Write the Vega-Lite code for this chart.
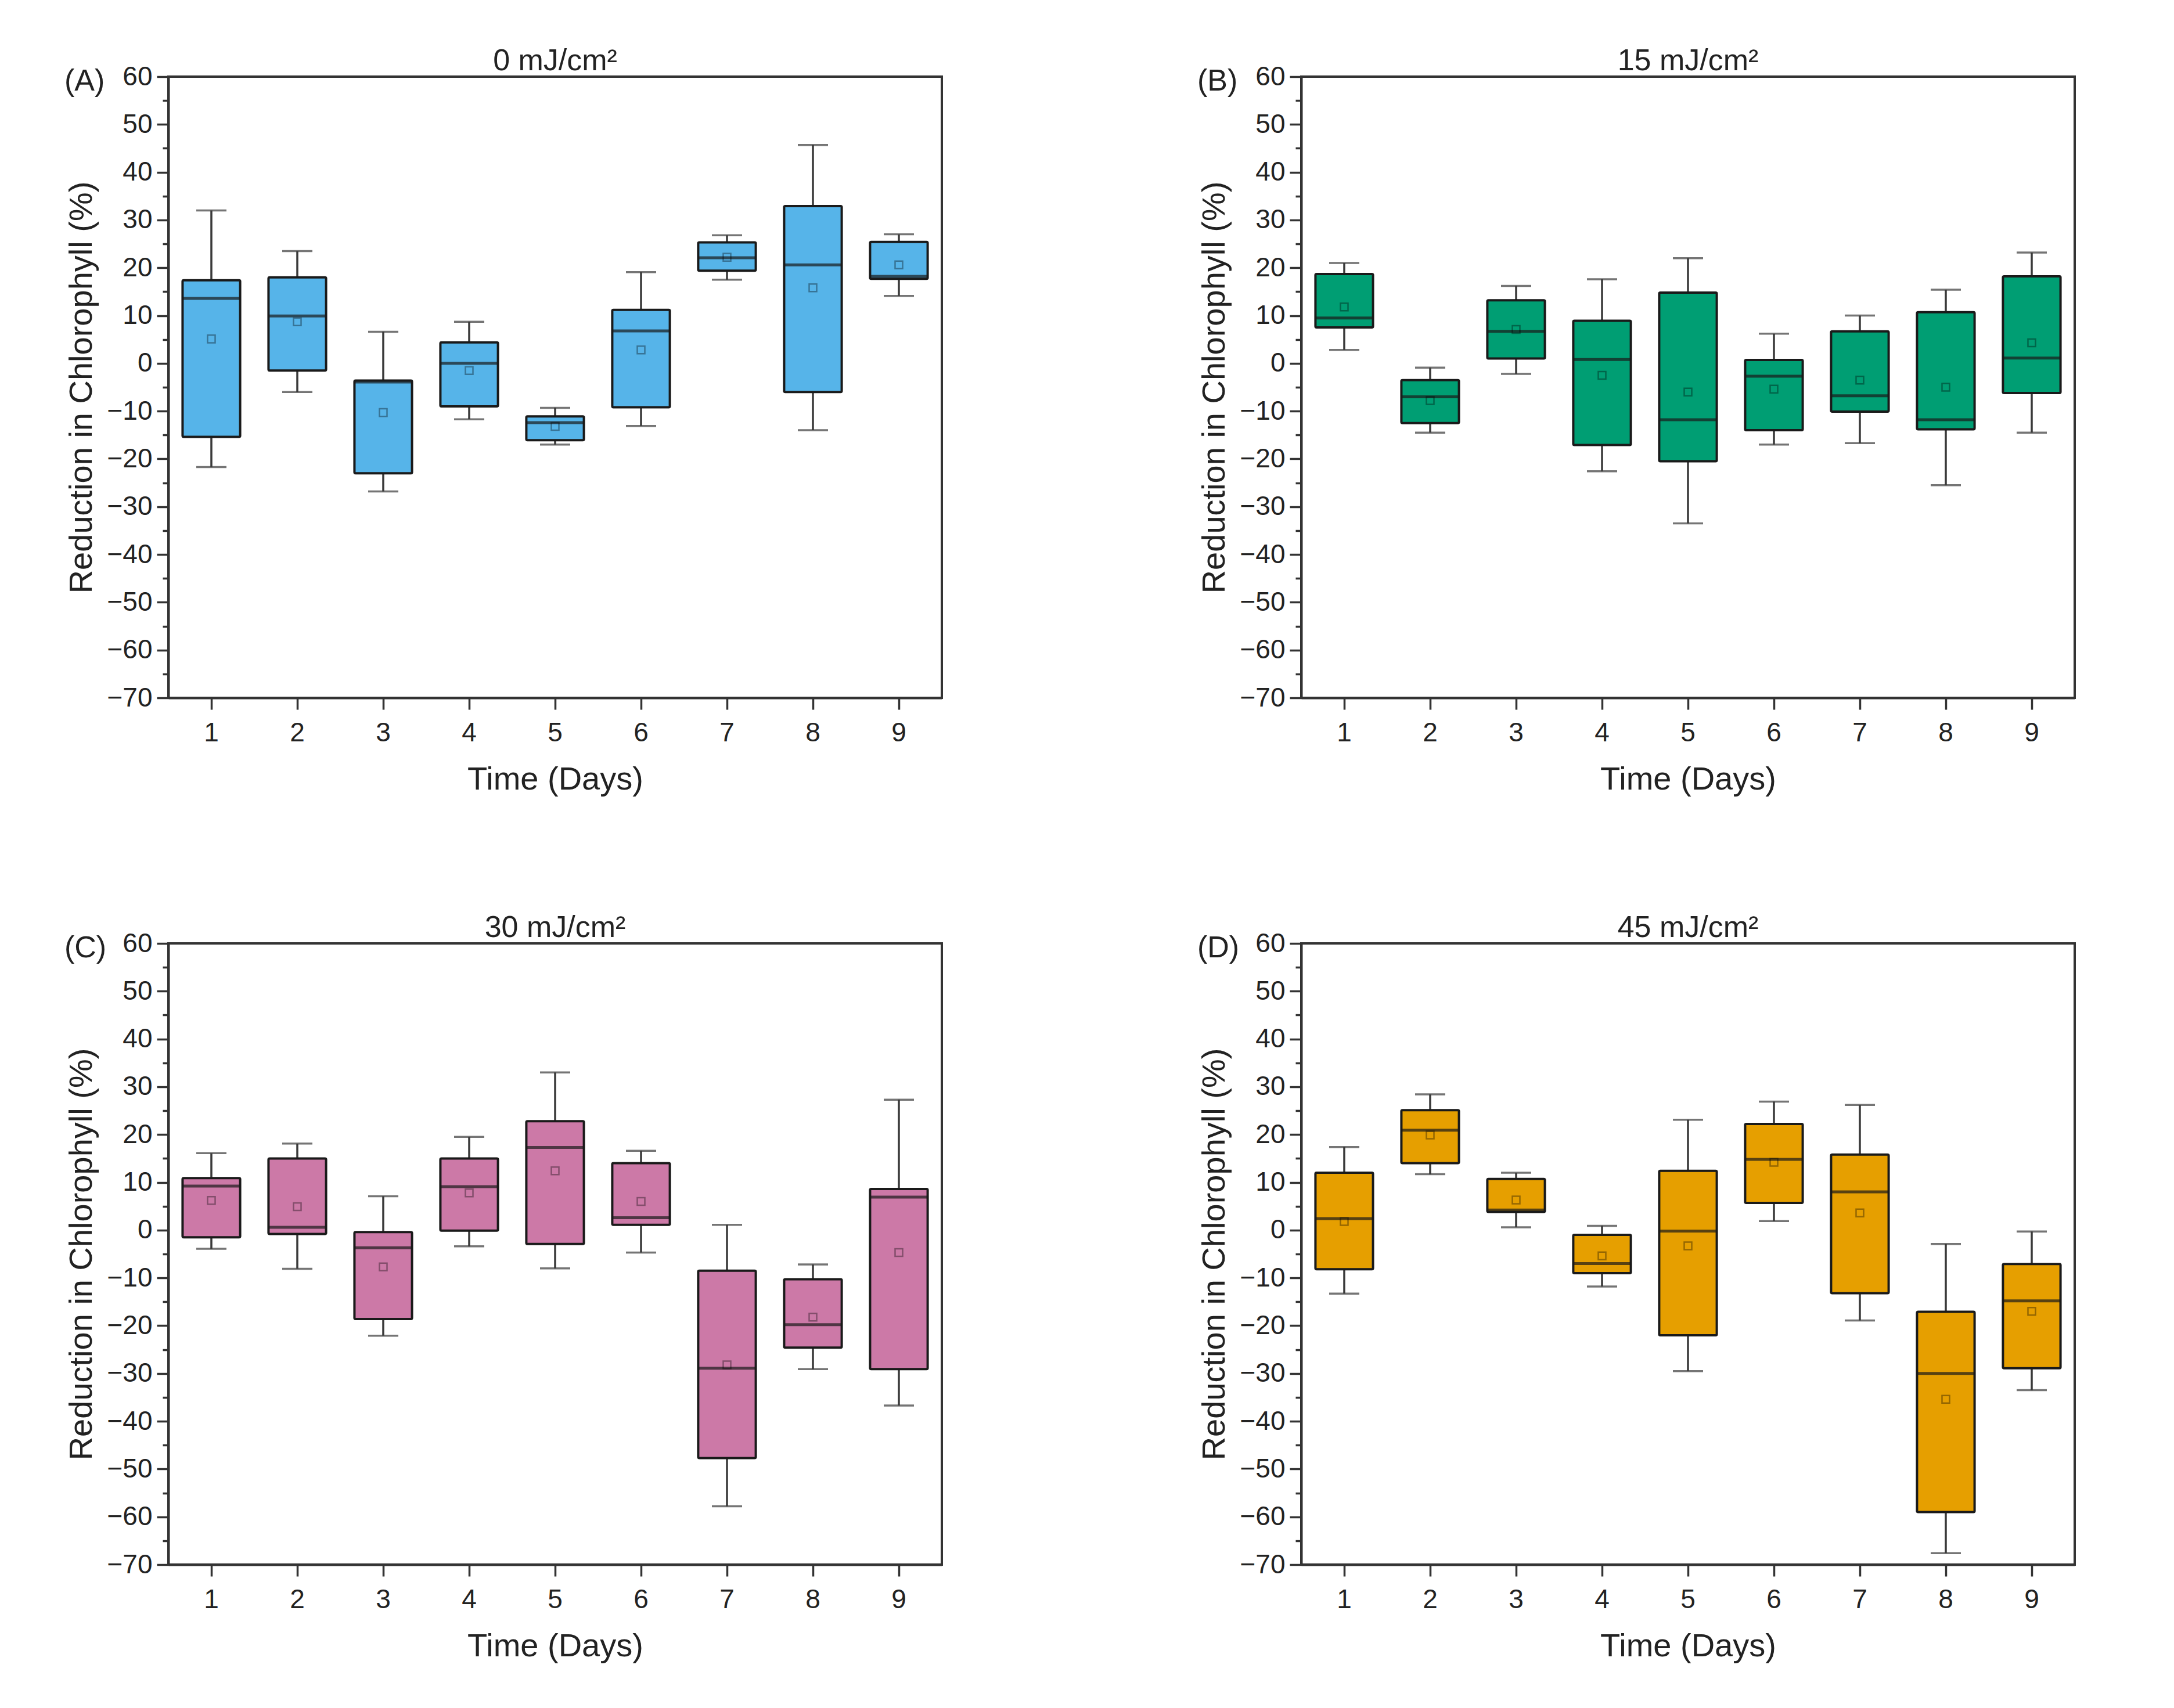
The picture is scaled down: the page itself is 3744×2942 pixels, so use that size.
{
  "$schema": "https://vega.github.io/schema/vega-lite/v6.json",
  "background": "white",
  "padding": {"left": 110, "top": 77, "right": 40, "bottom": 30},
  "data": {
    "values": [
      {"panel": "A", "day": 1, "lo": -21.7, "q1": -15.4, "med": 13.6, "q3": 17.4, "hi": 32.0, "mean": 5.1},
      {"panel": "A", "day": 2, "lo": -6.0, "q1": -1.5, "med": 9.9, "q3": 18.0, "hi": 23.5, "mean": 8.7},
      {"panel": "A", "day": 3, "lo": -26.8, "q1": -23.0, "med": -3.9, "q3": -3.6, "hi": 6.6, "mean": -10.3},
      {"panel": "A", "day": 4, "lo": -11.7, "q1": -9.0, "med": 0.0, "q3": 4.4, "hi": 8.7, "mean": -1.5},
      {"panel": "A", "day": 5, "lo": -17.0, "q1": -16.1, "med": -12.4, "q3": -11.1, "hi": -9.3, "mean": -13.2},
      {"panel": "A", "day": 6, "lo": -13.1, "q1": -9.2, "med": 6.8, "q3": 11.2, "hi": 19.1, "mean": 2.8},
      {"panel": "A", "day": 7, "lo": 17.5, "q1": 19.4, "med": 22.1, "q3": 25.3, "hi": 26.8, "mean": 22.2},
      {"panel": "A", "day": 8, "lo": -14.0, "q1": -6.0, "med": 20.6, "q3": 32.9, "hi": 45.7, "mean": 15.8},
      {"panel": "A", "day": 9, "lo": 14.1, "q1": 17.7, "med": 18.2, "q3": 25.4, "hi": 27.0, "mean": 20.6},
      {"panel": "B", "day": 1, "lo": 2.8, "q1": 7.5, "med": 9.5, "q3": 18.7, "hi": 21.0, "mean": 11.8},
      {"panel": "B", "day": 2, "lo": -14.5, "q1": -12.5, "med": -7.0, "q3": -3.5, "hi": -0.9, "mean": -7.8},
      {"panel": "B", "day": 3, "lo": -2.2, "q1": 1.0, "med": 6.7, "q3": 13.2, "hi": 16.2, "mean": 7.1},
      {"panel": "B", "day": 4, "lo": -22.6, "q1": -17.1, "med": 0.8, "q3": 8.9, "hi": 17.6, "mean": -2.5},
      {"panel": "B", "day": 5, "lo": -33.5, "q1": -20.5, "med": -11.8, "q3": 14.8, "hi": 22.0, "mean": -6.0},
      {"panel": "B", "day": 6, "lo": -17.0, "q1": -14.0, "med": -2.7, "q3": 0.7, "hi": 6.2, "mean": -5.4},
      {"panel": "B", "day": 7, "lo": -16.7, "q1": -10.1, "med": -6.8, "q3": 6.7, "hi": 10.0, "mean": -3.5},
      {"panel": "B", "day": 8, "lo": -25.5, "q1": -13.8, "med": -11.8, "q3": 10.7, "hi": 15.4, "mean": -5.0},
      {"panel": "B", "day": 9, "lo": -14.5, "q1": -6.2, "med": 1.1, "q3": 18.2, "hi": 23.2, "mean": 4.3},
      {"panel": "C", "day": 1, "lo": -3.9, "q1": -1.5, "med": 9.2, "q3": 10.9, "hi": 16.1, "mean": 6.2},
      {"panel": "C", "day": 2, "lo": -8.1, "q1": -0.8, "med": 0.6, "q3": 15.0, "hi": 18.1, "mean": 4.9},
      {"panel": "C", "day": 3, "lo": -22.1, "q1": -18.6, "med": -3.7, "q3": -0.4, "hi": 7.1, "mean": -7.7},
      {"panel": "C", "day": 4, "lo": -3.4, "q1": -0.1, "med": 9.1, "q3": 15.0, "hi": 19.5, "mean": 7.8},
      {"panel": "C", "day": 5, "lo": -8.0, "q1": -2.9, "med": 17.3, "q3": 22.8, "hi": 33.0, "mean": 12.4},
      {"panel": "C", "day": 6, "lo": -4.7, "q1": 1.1, "med": 2.6, "q3": 14.0, "hi": 16.6, "mean": 6.0},
      {"panel": "C", "day": 7, "lo": -57.8, "q1": -47.7, "med": -28.9, "q3": -8.5, "hi": 1.1, "mean": -28.2},
      {"panel": "C", "day": 8, "lo": -29.1, "q1": -24.6, "med": -19.8, "q3": -10.3, "hi": -7.2, "mean": -18.2},
      {"panel": "C", "day": 9, "lo": -36.7, "q1": -29.1, "med": 6.9, "q3": 8.6, "hi": 27.3, "mean": -4.7},
      {"panel": "D", "day": 1, "lo": -13.3, "q1": -8.2, "med": 2.4, "q3": 12.0, "hi": 17.4, "mean": 1.8},
      {"panel": "D", "day": 2, "lo": 11.7, "q1": 14.0, "med": 20.9, "q3": 25.1, "hi": 28.4, "mean": 19.9},
      {"panel": "D", "day": 3, "lo": 0.6, "q1": 3.8, "med": 4.2, "q3": 10.7, "hi": 12.0, "mean": 6.3},
      {"panel": "D", "day": 4, "lo": -11.8, "q1": -9.0, "med": -7.0, "q3": -1.0, "hi": 0.9, "mean": -5.4},
      {"panel": "D", "day": 5, "lo": -29.5, "q1": -22.0, "med": -0.2, "q3": 12.4, "hi": 23.1, "mean": -3.3},
      {"panel": "D", "day": 6, "lo": 1.9, "q1": 5.7, "med": 14.8, "q3": 22.2, "hi": 26.9, "mean": 14.2},
      {"panel": "D", "day": 7, "lo": -18.9, "q1": -13.2, "med": 8.0, "q3": 15.8, "hi": 26.2, "mean": 3.6},
      {"panel": "D", "day": 8, "lo": -67.6, "q1": -59.0, "med": -30.0, "q3": -17.1, "hi": -2.9, "mean": -35.4},
      {"panel": "D", "day": 9, "lo": -33.5, "q1": -28.9, "med": -14.8, "q3": -7.1, "hi": -0.3, "mean": -17.0}
    ]
  },
  "spacing": 198,
  "vconcat": [
    {
      "spacing": 437,
      "hconcat": [
        {
          "title": {"text": "(A)", "anchor": "start", "frame": "bounds", "offset": 0, "dy": 90},
          "vconcat": [
            {
              "width": 1332, "height": 1070,
              "title": "0 mJ/cm²",
              "transform": [{"filter": "datum.panel === 'A'"}],
              "encoding": {
                "x": {"field": "day", "type": "ordinal", "scale": {"type": "band", "paddingInner": 0, "paddingOuter": 0},
                      "axis": {"title": "Time (Days)", "labelAngle": 0, "tickSize": 20, "labelPadding": 18, "titlePadding": 30}}
              },
              "layer": [
                {"mark": {"type": "rule", "color": "#3a3a3a", "strokeWidth": 3.5},
                 "encoding": {
                   "y": {"field": "lo", "type": "quantitative", "scale": {"domain": [-70, 60], "nice": false, "zero": false},
                         "axis": {"title": "Reduction in Chlorophyll (%)", "values": [-70, -65, -60, -55, -50, -45, -40, -35, -30, -25, -20, -15, -10, -5, 0, 5, 10, 15, 20, 25, 30, 35, 40, 45, 50, 55, 60],
                                  "labelExpr": "datum.value % 10 === 0 ? datum.label : ''",
                                  "tickSize": {"condition": {"test": "datum.value % 10 !== 0", "value": 10}, "value": 20},
                                  "labelOverlap": false, "labelFlush": false, "labelPadding": 8, "titlePadding": 14}},
                   "y2": {"field": "hi"}}},
                {"mark": {"type": "tick", "color": "#3a3a3a", "thickness": 3.5, "size": 52},
                 "encoding": {"y": {"field": "lo", "type": "quantitative"}}},
                {"mark": {"type": "tick", "color": "#3a3a3a", "thickness": 3.5, "size": 52},
                 "encoding": {"y": {"field": "hi", "type": "quantitative"}}},
                {"mark": {"type": "bar", "fill": "#56B4E9", "stroke": "#1a1a1a", "strokeWidth": 4, "width": {"band": 0.67}, "cornerRadius": 2},
                 "encoding": {"y": {"field": "q1", "type": "quantitative"}, "y2": {"field": "q3"}}},
                {"mark": {"type": "tick", "color": "#1a1a1a", "thickness": 5, "size": 99},
                 "encoding": {"y": {"field": "med", "type": "quantitative"}}},
                {"mark": {"type": "point", "shape": "square", "filled": false, "size": 170, "strokeWidth": 2.5, "color": "#000000", "opacity": 0.35},
                 "encoding": {"y": {"field": "mean", "type": "quantitative"}}}
              ]
            }
          ]
        },
        {
          "title": {"text": "(B)", "anchor": "start", "frame": "bounds", "offset": 0, "dy": 90},
          "vconcat": [
            {
              "width": 1332, "height": 1070,
              "title": "15 mJ/cm²",
              "transform": [{"filter": "datum.panel === 'B'"}],
              "encoding": {
                "x": {"field": "day", "type": "ordinal", "scale": {"type": "band", "paddingInner": 0, "paddingOuter": 0},
                      "axis": {"title": "Time (Days)", "labelAngle": 0, "tickSize": 20, "labelPadding": 18, "titlePadding": 30}}
              },
              "layer": [
                {"mark": {"type": "rule", "color": "#3a3a3a", "strokeWidth": 3.5},
                 "encoding": {
                   "y": {"field": "lo", "type": "quantitative", "scale": {"domain": [-70, 60], "nice": false, "zero": false},
                         "axis": {"title": "Reduction in Chlorophyll (%)", "values": [-70, -65, -60, -55, -50, -45, -40, -35, -30, -25, -20, -15, -10, -5, 0, 5, 10, 15, 20, 25, 30, 35, 40, 45, 50, 55, 60],
                                  "labelExpr": "datum.value % 10 === 0 ? datum.label : ''",
                                  "tickSize": {"condition": {"test": "datum.value % 10 !== 0", "value": 10}, "value": 20},
                                  "labelOverlap": false, "labelFlush": false, "labelPadding": 8, "titlePadding": 14}},
                   "y2": {"field": "hi"}}},
                {"mark": {"type": "tick", "color": "#3a3a3a", "thickness": 3.5, "size": 52},
                 "encoding": {"y": {"field": "lo", "type": "quantitative"}}},
                {"mark": {"type": "tick", "color": "#3a3a3a", "thickness": 3.5, "size": 52},
                 "encoding": {"y": {"field": "hi", "type": "quantitative"}}},
                {"mark": {"type": "bar", "fill": "#009E73", "stroke": "#1a1a1a", "strokeWidth": 4, "width": {"band": 0.67}, "cornerRadius": 2},
                 "encoding": {"y": {"field": "q1", "type": "quantitative"}, "y2": {"field": "q3"}}},
                {"mark": {"type": "tick", "color": "#1a1a1a", "thickness": 5, "size": 99},
                 "encoding": {"y": {"field": "med", "type": "quantitative"}}},
                {"mark": {"type": "point", "shape": "square", "filled": false, "size": 170, "strokeWidth": 2.5, "color": "#000000", "opacity": 0.35},
                 "encoding": {"y": {"field": "mean", "type": "quantitative"}}}
              ]
            }
          ]
        }
      ]
    },
    {
      "spacing": 437,
      "hconcat": [
        {
          "title": {"text": "(C)", "anchor": "start", "frame": "bounds", "offset": 0, "dy": 90},
          "vconcat": [
            {
              "width": 1332, "height": 1070,
              "title": "30 mJ/cm²",
              "transform": [{"filter": "datum.panel === 'C'"}],
              "encoding": {
                "x": {"field": "day", "type": "ordinal", "scale": {"type": "band", "paddingInner": 0, "paddingOuter": 0},
                      "axis": {"title": "Time (Days)", "labelAngle": 0, "tickSize": 20, "labelPadding": 18, "titlePadding": 30}}
              },
              "layer": [
                {"mark": {"type": "rule", "color": "#3a3a3a", "strokeWidth": 3.5},
                 "encoding": {
                   "y": {"field": "lo", "type": "quantitative", "scale": {"domain": [-70, 60], "nice": false, "zero": false},
                         "axis": {"title": "Reduction in Chlorophyll (%)", "values": [-70, -65, -60, -55, -50, -45, -40, -35, -30, -25, -20, -15, -10, -5, 0, 5, 10, 15, 20, 25, 30, 35, 40, 45, 50, 55, 60],
                                  "labelExpr": "datum.value % 10 === 0 ? datum.label : ''",
                                  "tickSize": {"condition": {"test": "datum.value % 10 !== 0", "value": 10}, "value": 20},
                                  "labelOverlap": false, "labelFlush": false, "labelPadding": 8, "titlePadding": 14}},
                   "y2": {"field": "hi"}}},
                {"mark": {"type": "tick", "color": "#3a3a3a", "thickness": 3.5, "size": 52},
                 "encoding": {"y": {"field": "lo", "type": "quantitative"}}},
                {"mark": {"type": "tick", "color": "#3a3a3a", "thickness": 3.5, "size": 52},
                 "encoding": {"y": {"field": "hi", "type": "quantitative"}}},
                {"mark": {"type": "bar", "fill": "#CC79A7", "stroke": "#1a1a1a", "strokeWidth": 4, "width": {"band": 0.67}, "cornerRadius": 2},
                 "encoding": {"y": {"field": "q1", "type": "quantitative"}, "y2": {"field": "q3"}}},
                {"mark": {"type": "tick", "color": "#1a1a1a", "thickness": 5, "size": 99},
                 "encoding": {"y": {"field": "med", "type": "quantitative"}}},
                {"mark": {"type": "point", "shape": "square", "filled": false, "size": 170, "strokeWidth": 2.5, "color": "#000000", "opacity": 0.35},
                 "encoding": {"y": {"field": "mean", "type": "quantitative"}}}
              ]
            }
          ]
        },
        {
          "title": {"text": "(D)", "anchor": "start", "frame": "bounds", "offset": 0, "dy": 90},
          "vconcat": [
            {
              "width": 1332, "height": 1070,
              "title": "45 mJ/cm²",
              "transform": [{"filter": "datum.panel === 'D'"}],
              "encoding": {
                "x": {"field": "day", "type": "ordinal", "scale": {"type": "band", "paddingInner": 0, "paddingOuter": 0},
                      "axis": {"title": "Time (Days)", "labelAngle": 0, "tickSize": 20, "labelPadding": 18, "titlePadding": 30}}
              },
              "layer": [
                {"mark": {"type": "rule", "color": "#3a3a3a", "strokeWidth": 3.5},
                 "encoding": {
                   "y": {"field": "lo", "type": "quantitative", "scale": {"domain": [-70, 60], "nice": false, "zero": false},
                         "axis": {"title": "Reduction in Chlorophyll (%)", "values": [-70, -65, -60, -55, -50, -45, -40, -35, -30, -25, -20, -15, -10, -5, 0, 5, 10, 15, 20, 25, 30, 35, 40, 45, 50, 55, 60],
                                  "labelExpr": "datum.value % 10 === 0 ? datum.label : ''",
                                  "tickSize": {"condition": {"test": "datum.value % 10 !== 0", "value": 10}, "value": 20},
                                  "labelOverlap": false, "labelFlush": false, "labelPadding": 8, "titlePadding": 14}},
                   "y2": {"field": "hi"}}},
                {"mark": {"type": "tick", "color": "#3a3a3a", "thickness": 3.5, "size": 52},
                 "encoding": {"y": {"field": "lo", "type": "quantitative"}}},
                {"mark": {"type": "tick", "color": "#3a3a3a", "thickness": 3.5, "size": 52},
                 "encoding": {"y": {"field": "hi", "type": "quantitative"}}},
                {"mark": {"type": "bar", "fill": "#E69F00", "stroke": "#1a1a1a", "strokeWidth": 4, "width": {"band": 0.67}, "cornerRadius": 2},
                 "encoding": {"y": {"field": "q1", "type": "quantitative"}, "y2": {"field": "q3"}}},
                {"mark": {"type": "tick", "color": "#1a1a1a", "thickness": 5, "size": 99},
                 "encoding": {"y": {"field": "med", "type": "quantitative"}}},
                {"mark": {"type": "point", "shape": "square", "filled": false, "size": 170, "strokeWidth": 2.5, "color": "#000000", "opacity": 0.35},
                 "encoding": {"y": {"field": "mean", "type": "quantitative"}}}
              ]
            }
          ]
        }
      ]
    }
  ],
  "config": {
    "font": "Liberation Sans",
    "view": {"stroke": "#333333", "strokeWidth": 4},
    "axis": {"labelFont": "Liberation Sans", "titleFont": "Liberation Sans", "labelFontSize": 46, "titleFontSize": 56, "titleFontWeight": "normal",
             "labelColor": "#222222", "titleColor": "#222222", "domainColor": "#333333", "domainWidth": 4, "tickColor": "#333333", "tickWidth": 3.5, "grid": false},
    "title": {"font": "Liberation Sans", "fontSize": 52, "fontWeight": "normal", "color": "#222222", "offset": -23, "anchor": "middle", "frame": "group"}
  }
}
